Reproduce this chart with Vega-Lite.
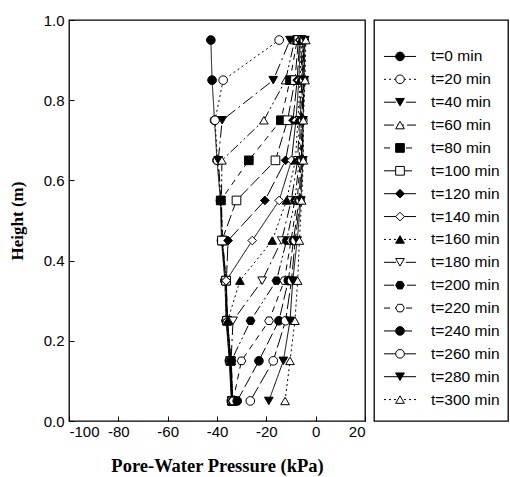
{
  "$schema": "https://vega.github.io/schema/vega-lite/v6.json",
  "padding": {"left": 7, "top": 12, "right": 0, "bottom": 0},
  "background": "white",
  "datasets": {
    "d": [
      {"t":"t=0 min","h":0.95,"p":-42.5},{"t":"t=0 min","h":0.85,"p":-42},{"t":"t=0 min","h":0.75,"p":-41},{"t":"t=0 min","h":0.65,"p":-40},{"t":"t=0 min","h":0.55,"p":-38.6},{"t":"t=0 min","h":0.45,"p":-38.2},{"t":"t=0 min","h":0.35,"p":-36.8},{"t":"t=0 min","h":0.25,"p":-36.3},{"t":"t=0 min","h":0.15,"p":-35},{"t":"t=0 min","h":0.05,"p":-34.2},
      {"t":"t=20 min","h":0.95,"p":-14.8},{"t":"t=20 min","h":0.85,"p":-37.5},{"t":"t=20 min","h":0.75,"p":-40.8},{"t":"t=20 min","h":0.65,"p":-39.8},{"t":"t=20 min","h":0.55,"p":-38.4},{"t":"t=20 min","h":0.45,"p":-38},{"t":"t=20 min","h":0.35,"p":-36.7},{"t":"t=20 min","h":0.25,"p":-36.2},{"t":"t=20 min","h":0.15,"p":-34.8},{"t":"t=20 min","h":0.05,"p":-34},
      {"t":"t=40 min","h":0.95,"p":-10.4},{"t":"t=40 min","h":0.85,"p":-17.2},{"t":"t=40 min","h":0.75,"p":-37.9},{"t":"t=40 min","h":0.65,"p":-39.5},{"t":"t=40 min","h":0.55,"p":-38.3},{"t":"t=40 min","h":0.45,"p":-37.9},{"t":"t=40 min","h":0.35,"p":-36.5},{"t":"t=40 min","h":0.25,"p":-36},{"t":"t=40 min","h":0.15,"p":-34.7},{"t":"t=40 min","h":0.05,"p":-34},
      {"t":"t=60 min","h":0.95,"p":-8.5},{"t":"t=60 min","h":0.85,"p":-12.2},{"t":"t=60 min","h":0.75,"p":-21},{"t":"t=60 min","h":0.65,"p":-38},{"t":"t=60 min","h":0.55,"p":-38.2},{"t":"t=60 min","h":0.45,"p":-37.8},{"t":"t=60 min","h":0.35,"p":-36.4},{"t":"t=60 min","h":0.25,"p":-36},{"t":"t=60 min","h":0.15,"p":-34.6},{"t":"t=60 min","h":0.05,"p":-33.9},
      {"t":"t=80 min","h":0.95,"p":-7.5},{"t":"t=80 min","h":0.85,"p":-10.4},{"t":"t=80 min","h":0.75,"p":-14.1},{"t":"t=80 min","h":0.65,"p":-27.1},{"t":"t=80 min","h":0.55,"p":-38.5},{"t":"t=80 min","h":0.45,"p":-37.7},{"t":"t=80 min","h":0.35,"p":-36.3},{"t":"t=80 min","h":0.25,"p":-35.9},{"t":"t=80 min","h":0.15,"p":-34.5},{"t":"t=80 min","h":0.05,"p":-33.9},
      {"t":"t=100 min","h":0.95,"p":-7},{"t":"t=100 min","h":0.85,"p":-8.4},{"t":"t=100 min","h":0.75,"p":-11.4},{"t":"t=100 min","h":0.65,"p":-16.3},{"t":"t=100 min","h":0.55,"p":-32.1},{"t":"t=100 min","h":0.45,"p":-38},{"t":"t=100 min","h":0.35,"p":-36.3},{"t":"t=100 min","h":0.25,"p":-35.9},{"t":"t=100 min","h":0.15,"p":-34.5},{"t":"t=100 min","h":0.05,"p":-33.8},
      {"t":"t=120 min","h":0.95,"p":-6.5},{"t":"t=120 min","h":0.85,"p":-7.5},{"t":"t=120 min","h":0.75,"p":-9.2},{"t":"t=120 min","h":0.65,"p":-12.2},{"t":"t=120 min","h":0.55,"p":-20.6},{"t":"t=120 min","h":0.45,"p":-35.5},{"t":"t=120 min","h":0.35,"p":-36.2},{"t":"t=120 min","h":0.25,"p":-35.8},{"t":"t=120 min","h":0.15,"p":-34.4},{"t":"t=120 min","h":0.05,"p":-33.8},
      {"t":"t=140 min","h":0.95,"p":-6.2},{"t":"t=140 min","h":0.85,"p":-6.8},{"t":"t=140 min","h":0.75,"p":-8},{"t":"t=140 min","h":0.65,"p":-9.8},{"t":"t=140 min","h":0.55,"p":-14.8},{"t":"t=140 min","h":0.45,"p":-25.7},{"t":"t=140 min","h":0.35,"p":-36.3},{"t":"t=140 min","h":0.25,"p":-35.8},{"t":"t=140 min","h":0.15,"p":-34.4},{"t":"t=140 min","h":0.05,"p":-33.7},
      {"t":"t=160 min","h":0.95,"p":-5.8},{"t":"t=160 min","h":0.85,"p":-6.3},{"t":"t=160 min","h":0.75,"p":-7.2},{"t":"t=160 min","h":0.65,"p":-8.2},{"t":"t=160 min","h":0.55,"p":-11.8},{"t":"t=160 min","h":0.45,"p":-17.6},{"t":"t=160 min","h":0.35,"p":-30.7},{"t":"t=160 min","h":0.25,"p":-35.7},{"t":"t=160 min","h":0.15,"p":-34.3},{"t":"t=160 min","h":0.05,"p":-33.7},
      {"t":"t=180 min","h":0.95,"p":-5.5},{"t":"t=180 min","h":0.85,"p":-5.9},{"t":"t=180 min","h":0.75,"p":-6.6},{"t":"t=180 min","h":0.65,"p":-7.3},{"t":"t=180 min","h":0.55,"p":-9.9},{"t":"t=180 min","h":0.45,"p":-13.8},{"t":"t=180 min","h":0.35,"p":-21.7},{"t":"t=180 min","h":0.25,"p":-33.5},{"t":"t=180 min","h":0.15,"p":-34.3},{"t":"t=180 min","h":0.05,"p":-33.6},
      {"t":"t=200 min","h":0.95,"p":-5.2},{"t":"t=200 min","h":0.85,"p":-5.6},{"t":"t=200 min","h":0.75,"p":-6.2},{"t":"t=200 min","h":0.65,"p":-6.7},{"t":"t=200 min","h":0.55,"p":-8.4},{"t":"t=200 min","h":0.45,"p":-11.8},{"t":"t=200 min","h":0.35,"p":-15.9},{"t":"t=200 min","h":0.25,"p":-26.4},{"t":"t=200 min","h":0.15,"p":-34.2},{"t":"t=200 min","h":0.05,"p":-33.6},
      {"t":"t=220 min","h":0.95,"p":-5},{"t":"t=220 min","h":0.85,"p":-5.3},{"t":"t=220 min","h":0.75,"p":-5.8},{"t":"t=220 min","h":0.65,"p":-6.2},{"t":"t=220 min","h":0.55,"p":-7.5},{"t":"t=220 min","h":0.45,"p":-10},{"t":"t=220 min","h":0.35,"p":-12.7},{"t":"t=220 min","h":0.25,"p":-18.9},{"t":"t=220 min","h":0.15,"p":-30.1},{"t":"t=220 min","h":0.05,"p":-33.5},
      {"t":"t=240 min","h":0.95,"p":-4.8},{"t":"t=240 min","h":0.85,"p":-5.1},{"t":"t=240 min","h":0.75,"p":-5.5},{"t":"t=240 min","h":0.65,"p":-5.8},{"t":"t=240 min","h":0.55,"p":-6.8},{"t":"t=240 min","h":0.45,"p":-9},{"t":"t=240 min","h":0.35,"p":-11.1},{"t":"t=240 min","h":0.25,"p":-14.9},{"t":"t=240 min","h":0.15,"p":-23},{"t":"t=240 min","h":0.05,"p":-31.8},
      {"t":"t=260 min","h":0.95,"p":-4.6},{"t":"t=260 min","h":0.85,"p":-4.8},{"t":"t=260 min","h":0.75,"p":-5.2},{"t":"t=260 min","h":0.65,"p":-5.5},{"t":"t=260 min","h":0.55,"p":-6.3},{"t":"t=260 min","h":0.45,"p":-8.3},{"t":"t=260 min","h":0.35,"p":-9.8},{"t":"t=260 min","h":0.25,"p":-12.2},{"t":"t=260 min","h":0.15,"p":-17.2},{"t":"t=260 min","h":0.05,"p":-26.5},
      {"t":"t=280 min","h":0.95,"p":-4.4},{"t":"t=280 min","h":0.85,"p":-4.6},{"t":"t=280 min","h":0.75,"p":-5.1},{"t":"t=280 min","h":0.65,"p":-5.2},{"t":"t=280 min","h":0.55,"p":-6},{"t":"t=280 min","h":0.45,"p":-7.5},{"t":"t=280 min","h":0.35,"p":-9.3},{"t":"t=280 min","h":0.25,"p":-10.4},{"t":"t=280 min","h":0.15,"p":-13.1},{"t":"t=280 min","h":0.05,"p":-19},
      {"t":"t=300 min","h":0.95,"p":-4},{"t":"t=300 min","h":0.85,"p":-4.3},{"t":"t=300 min","h":0.75,"p":-5},{"t":"t=300 min","h":0.65,"p":-5},{"t":"t=300 min","h":0.55,"p":-5.7},{"t":"t=300 min","h":0.45,"p":-6.6},{"t":"t=300 min","h":0.35,"p":-7.3},{"t":"t=300 min","h":0.25,"p":-8.4},{"t":"t=300 min","h":0.15,"p":-10.4},{"t":"t=300 min","h":0.05,"p":-12.4}
    ]
  },
  "data": {"name": "d"},
  "spacing": 6,
  "config": {
    "view": {"stroke": "black", "strokeWidth": 1.3},
    "axis": {"grid": false, "domain": false, "tickColor": "black", "tickSize": -5, "tickWidth": 1, "labelFont": "Liberation Sans", "labelFontSize": 15, "labelColor": "black", "titleFont": "Liberation Serif", "titleFontWeight": "bold", "titleColor": "black"}
  },
  "hconcat": [
    {
      "width": 296,
      "height": 401,
      "layer": [
        {
          "mark": {"type": "line", "color": "black", "strokeWidth": 1},
          "encoding": {
            "x": {"field": "p", "type": "quantitative", "scale": {"domain": [-100, 20], "nice": false, "zero": false}, "axis": {"values": [-100, -80, -60, -40, -20, 0, 20], "title": "Pore-Water Pressure (kPa)", "titleFontSize": 18.5, "labelExpr": "datum.value < 0 ? '-' + format(-datum.value, 'd') : format(datum.value, 'd')", "labelPadding": 8, "titlePadding": 17}},
            "y": {"field": "h", "type": "quantitative", "scale": {"domain": [0, 1], "nice": false}, "axis": {"values": [0, 0.2, 0.4, 0.6, 0.8, 1], "format": ".1f", "title": "Height (m)", "titleFontSize": 17, "labelPadding": 10, "titlePadding": 17}},
            "order": {"field": "h", "type": "quantitative"},
            "detail": {"field": "t", "type": "nominal"},
            "strokeDash": {"field": "t", "type": "nominal", "legend": null, "scale": {"domain": ["t=0 min","t=20 min","t=40 min","t=60 min","t=80 min","t=100 min","t=120 min","t=140 min","t=160 min","t=180 min","t=200 min","t=220 min","t=240 min","t=260 min","t=280 min","t=300 min"], "range": [[1,0],[2,3],[12,4,2,4],[10,3,2,3,2,3],[6,5],[12,4],[16,4],[1,0],[2,3],[12,4,2,4],[10,3,2,3,2,3],[6,5],[12,4],[16,4],[1,0],[2,3]]}}
          }
        },
        {
          "mark": {"type": "point", "filled": true, "stroke": "black", "strokeWidth": 1, "size": 75, "opacity": 1},
          "encoding": {
            "x": {"field": "p", "type": "quantitative"},
            "y": {"field": "h", "type": "quantitative"},
            "shape": {"field": "t", "type": "nominal", "legend": null, "scale": {"domain": ["t=0 min","t=20 min","t=40 min","t=60 min","t=80 min","t=100 min","t=120 min","t=140 min","t=160 min","t=180 min","t=200 min","t=220 min","t=240 min","t=260 min","t=280 min","t=300 min"], "range": ["circle","circle","triangle-down","triangle-up","square","square","diamond","diamond","triangle-up","triangle-down","M-1,0L-0.5,-0.866L0.5,-0.866L1,0L0.5,0.866L-0.5,0.866Z","M-1,0L-0.5,-0.866L0.5,-0.866L1,0L0.5,0.866L-0.5,0.866Z","circle","circle","triangle-down","triangle-up"]}},
            "fill": {"field": "t", "type": "nominal", "legend": null, "scale": {"domain": ["t=0 min","t=20 min","t=40 min","t=60 min","t=80 min","t=100 min","t=120 min","t=140 min","t=160 min","t=180 min","t=200 min","t=220 min","t=240 min","t=260 min","t=280 min","t=300 min"], "range": ["black","white","black","white","black","white","black","white","black","white","black","white","black","white","black","white"]}}
          }
        }
      ]
    },
    {
      "width": 134,
      "height": 401,
      "transform": [{"filter": "datum.h == 0.95"}],
      "layer": [
        {
          "mark": {"type": "rule", "color": "black", "strokeWidth": 1},
          "encoding": {
            "x": {"datum": 10, "type": "quantitative", "scale": {"domain": [0, 134], "nice": false, "zero": false}, "axis": null},
            "x2": {"datum": 42},
            "y": {"field": "t", "type": "ordinal", "sort": null, "scale": {"domain": ["t=0 min","t=20 min","t=40 min","t=60 min","t=80 min","t=100 min","t=120 min","t=140 min","t=160 min","t=180 min","t=200 min","t=220 min","t=240 min","t=260 min","t=280 min","t=300 min"], "range": [25, 391]}, "axis": null},
            "strokeDash": {"field": "t", "type": "nominal", "legend": null}
          }
        },
        {
          "mark": {"type": "point", "filled": true, "stroke": "black", "strokeWidth": 1, "size": 75, "opacity": 1},
          "encoding": {
            "x": {"datum": 26, "type": "quantitative"},
            "y": {"field": "t", "type": "ordinal"},
            "shape": {"field": "t", "type": "nominal", "legend": null},
            "fill": {"field": "t", "type": "nominal", "legend": null}
          }
        },
        {
          "mark": {"type": "text", "align": "left", "baseline": "middle", "font": "Liberation Sans", "fontSize": 15.5, "color": "black"},
          "encoding": {
            "x": {"datum": 57, "type": "quantitative"},
            "y": {"field": "t", "type": "ordinal"},
            "text": {"field": "t", "type": "nominal"}
          }
        }
      ]
    }
  ]
}
